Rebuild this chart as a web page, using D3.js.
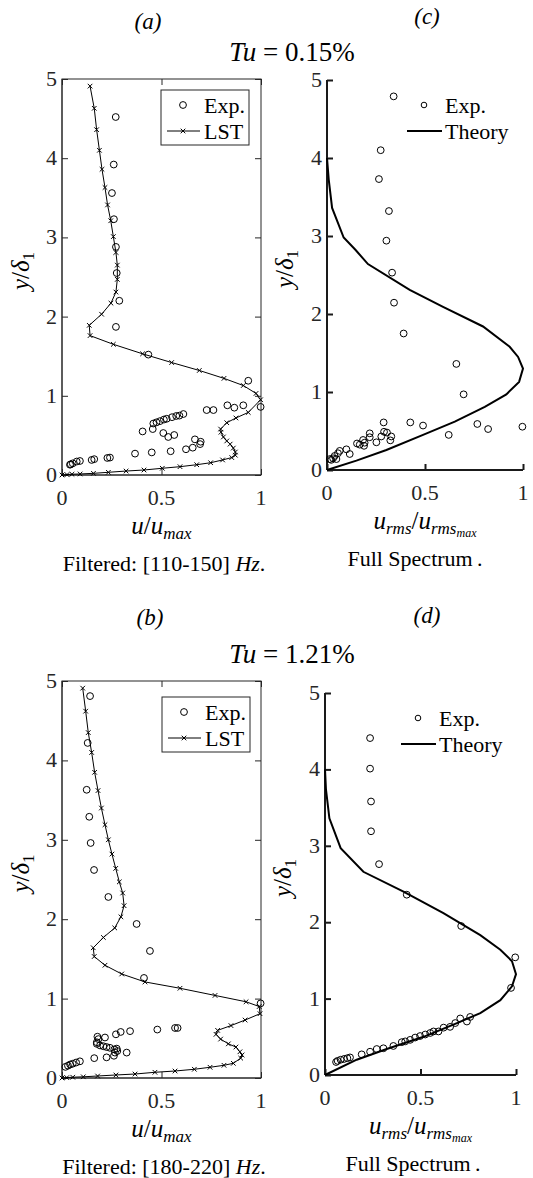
<!DOCTYPE html>
<html>
<head>
<meta charset="utf-8">
<script src="https://cdn.jsdelivr.net/npm/d3@7/dist/d3.min.js"></script>
<style>
  body { margin: 0; background: #fff; }
</style>
</head>
<body>
<div id="chart"></div>
<script>
// ---- data ----
const xTicks = [0, 0.5, 1];
const yTicks = [0, 1, 2, 3, 4, 5];

// (a) Tu = 0.15%, filtered 110-150 Hz
const expA = [
  [0.270, 4.52], [0.260, 3.92], [0.251, 3.56], [0.261, 3.23], [0.271, 2.88],
  [0.275, 2.55], [0.288, 2.20], [0.271, 1.87], [0.434, 1.52], [0.936, 1.19],
  [0.831, 0.88], [0.866, 0.85], [0.911, 0.88], [0.998, 0.86], [0.727, 0.82],
  [0.761, 0.82], [0.610, 0.77], [0.590, 0.75], [0.574, 0.745], [0.553, 0.73],
  [0.526, 0.71], [0.512, 0.70], [0.492, 0.68], [0.475, 0.665], [0.459, 0.65],
  [0.405, 0.55], [0.456, 0.58], [0.509, 0.53], [0.534, 0.48], [0.564, 0.505],
  [0.668, 0.45], [0.697, 0.42], [0.694, 0.39], [0.657, 0.345], [0.623, 0.325],
  [0.546, 0.30], [0.451, 0.285], [0.367, 0.27], [0.241, 0.22], [0.228, 0.215],
  [0.162, 0.20], [0.149, 0.19], [0.090, 0.177], [0.074, 0.17], [0.054, 0.147],
  [0.044, 0.135], [0.040, 0.13]
];
const lstA = [
  [0.141, 4.91], [0.162, 4.63], [0.174, 4.36], [0.188, 4.10], [0.201, 3.86],
  [0.216, 3.63], [0.229, 3.41], [0.245, 3.21], [0.258, 3.01], [0.271, 2.81],
  [0.278, 2.65], [0.278, 2.47], [0.271, 2.31], [0.246, 2.17], [0.199, 2.03],
  [0.137, 1.89], [0.141, 1.76], [0.258, 1.65], [0.405, 1.53], [0.551, 1.42],
  [0.690, 1.32], [0.814, 1.22], [0.911, 1.13], [0.975, 1.03], [0.998, 0.95],
  [0.936, 0.79], [0.874, 0.72], [0.828, 0.66], [0.797, 0.58], [0.799, 0.54],
  [0.811, 0.48], [0.828, 0.43], [0.845, 0.39], [0.861, 0.34], [0.871, 0.29],
  [0.871, 0.25], [0.853, 0.22], [0.807, 0.19], [0.747, 0.155], [0.677, 0.13],
  [0.593, 0.105], [0.504, 0.085], [0.412, 0.063], [0.322, 0.05], [0.233, 0.034],
  [0.158, 0.021], [0.091, 0.013], [0.050, 0.01], [0.025, 0.005], [0, 0]
];

// (c) Tu = 0.15%, full spectrum
const expC = [
  [0.340, 4.79], [0.274, 4.10], [0.265, 3.73], [0.316, 3.32], [0.303, 2.94],
  [0.332, 2.53], [0.342, 2.145], [0.391, 1.75], [0.660, 1.36], [0.697, 0.97],
  [0.997, 0.555], [0.822, 0.525], [0.767, 0.59], [0.621, 0.45], [0.490, 0.57],
  [0.425, 0.61], [0.289, 0.61], [0.291, 0.49], [0.306, 0.48], [0.328, 0.43],
  [0.323, 0.38], [0.277, 0.43], [0.252, 0.355], [0.218, 0.47], [0.218, 0.42],
  [0.192, 0.35], [0.184, 0.385], [0.167, 0.325], [0.153, 0.34], [0.189, 0.31],
  [0.116, 0.205], [0.099, 0.265], [0.065, 0.245], [0.056, 0.215], [0.039, 0.18],
  [0.031, 0.15], [0.022, 0.13], [0.014, 0.14], [0.048, 0.14]
];
const theoryC = [
  [0, 4.0], [0.009, 3.72], [0.026, 3.36], [0.085, 2.98], [0.146, 2.82],
  [0.209, 2.64], [0.422, 2.31], [0.592, 2.09], [0.796, 1.84], [0.932, 1.58],
  [0.975, 1.45], [1.0, 1.30], [0.980, 1.13], [0.915, 0.97], [0.805, 0.81],
  [0.652, 0.62], [0.490, 0.45], [0.303, 0.256], [0.150, 0.12], [0, 0]
];

// (b) Tu = 1.21%, filtered 180-220 Hz
const expB = [
  [0.141, 4.81], [0.129, 4.22], [0.124, 3.63], [0.137, 3.29], [0.144, 2.96],
  [0.161, 2.62], [0.233, 2.28], [0.375, 1.94], [0.442, 1.60], [0.412, 1.26],
  [0.998, 0.94], [0.568, 0.63], [0.581, 0.63], [0.479, 0.61], [0.342, 0.59],
  [0.295, 0.58], [0.271, 0.55], [0.216, 0.51], [0.178, 0.52], [0.183, 0.49],
  [0.175, 0.45], [0.175, 0.43], [0.191, 0.41], [0.208, 0.40], [0.224, 0.39],
  [0.241, 0.38], [0.263, 0.36], [0.275, 0.37], [0.278, 0.34], [0.266, 0.32],
  [0.261, 0.28], [0.325, 0.32], [0.224, 0.26], [0.162, 0.25], [0.090, 0.21],
  [0.071, 0.195], [0.054, 0.18], [0.041, 0.17], [0.030, 0.155], [0.017, 0.14]
];
const lstB = [
  [0.104, 4.91], [0.119, 4.62], [0.132, 4.35], [0.149, 4.10], [0.164, 3.85],
  [0.181, 3.62], [0.198, 3.40], [0.216, 3.19], [0.233, 3.00], [0.251, 2.82],
  [0.270, 2.64], [0.288, 2.47], [0.305, 2.33], [0.312, 2.17], [0.296, 2.03],
  [0.265, 1.89], [0.208, 1.77], [0.157, 1.64], [0.162, 1.53], [0.216, 1.42],
  [0.300, 1.31], [0.417, 1.21], [0.593, 1.13], [0.769, 1.04], [0.925, 0.96],
  [0.991, 0.90], [0.995, 0.81], [0.920, 0.73], [0.849, 0.66], [0.782, 0.60],
  [0.774, 0.55], [0.797, 0.49], [0.836, 0.43], [0.874, 0.39], [0.894, 0.33],
  [0.905, 0.29], [0.898, 0.25], [0.861, 0.185], [0.814, 0.16], [0.744, 0.135],
  [0.665, 0.11], [0.568, 0.088], [0.467, 0.072], [0.367, 0.05], [0.271, 0.038],
  [0.179, 0.025], [0.107, 0.015], [0.054, 0.01], [0.024, 0.005], [0, 0]
];

// (d) Tu = 1.21%, full spectrum
const expD = [
  [0.236, 4.41], [0.236, 4.01], [0.241, 3.58], [0.241, 3.19], [0.283, 2.76],
  [0.428, 2.36], [0.713, 1.95], [0.996, 1.54], [0.974, 1.14],
  [0.760, 0.76], [0.743, 0.70], [0.708, 0.74], [0.682, 0.68], [0.655, 0.63],
  [0.621, 0.62], [0.594, 0.57], [0.568, 0.57], [0.551, 0.55], [0.525, 0.53],
  [0.498, 0.51], [0.472, 0.49], [0.446, 0.46], [0.420, 0.44], [0.402, 0.43],
  [0.358, 0.38], [0.306, 0.35], [0.271, 0.34], [0.236, 0.305], [0.192, 0.27],
  [0.131, 0.23], [0.117, 0.22], [0.100, 0.21], [0.082, 0.20], [0.066, 0.185],
  [0.058, 0.17]
];
const theoryD = [
  [0, 4.0], [0.005, 3.74], [0.023, 3.36], [0.082, 2.97], [0.201, 2.66],
  [0.411, 2.40], [0.620, 2.12], [0.813, 1.83], [0.918, 1.64], [0.979, 1.49],
  [1.0, 1.32], [0.979, 1.16], [0.918, 0.98], [0.813, 0.81], [0.691, 0.68],
  [0.516, 0.50], [0.323, 0.34], [0.166, 0.20], [0, 0]
];

const svg = d3.select("#chart").append("svg")
  .attr("width", 533)
  .attr("height", 1178)
  .attr("font-family", "'Liberation Serif', 'DejaVu Serif', serif");

const axisColor = "#262626";
const FS = 22;

// math-ish text helpers
function mathText(g, x, y, parts, rotate) {
  const t = g.append("text")
    .attr("x", x).attr("y", y)
    .attr("text-anchor", "middle")
    .attr("font-size", 25)
    .attr("fill", "#000");
  if (rotate) t.attr("transform", `rotate(-90,${x},${y})`);
  parts.forEach(p => {
    const s = t.append("tspan").text(p.t);
    if (p.i) s.attr("font-style", "italic");
    if (p.fs) s.attr("font-size", p.fs);
    if (p.dy) s.attr("dy", p.dy);
  });
  return t;
}

const yLabel = [
  {t: "y", i: 1}, {t: "/"}, {t: "δ", i: 1}, {t: "1", fs: 17, dy: 5}
];
const uLabel = [
  {t: "u", i: 1}, {t: "/"}, {t: "u", i: 1}, {t: "max", i: 1, fs: 17, dy: 5}
];
const rmsLabel = [
  {t: "u", i: 1}, {t: "rms", i: 1, fs: 17, dy: 5}, {t: "/", dy: -5},
  {t: "u", i: 1}, {t: "rms", i: 1, fs: 17, dy: 5}, {t: "max", i: 1, fs: 12, dy: 3}
];

function drawPanel(p) {
  const x = d3.scaleLinear().domain([0, 1]).range([p.left, p.right]);
  const y = d3.scaleLinear().domain([0, 5]).range([p.bottom, p.top]);
  const g = svg.append("g");

  // axes
  if (p.boxed) {
    g.append("rect")
      .attr("x", p.left).attr("y", p.top)
      .attr("width", p.right - p.left).attr("height", p.bottom - p.top)
      .attr("fill", "none").attr("stroke", axisColor).attr("stroke-width", 1);
    g.append("g").attr("transform", `translate(0,${p.top})`)
      .call(d3.axisBottom(x).tickValues(xTicks).tickSize(6).tickFormat(""))
      .call(a => a.select(".domain").remove())
      .selectAll("line").attr("stroke", axisColor);
    g.append("g").attr("transform", `translate(${p.right},0)`)
      .call(d3.axisLeft(y).tickValues(yTicks).tickSize(6).tickFormat(""))
      .call(a => a.select(".domain").remove())
      .selectAll("line").attr("stroke", axisColor);
  }
  const sw = p.boxed ? 1 : 2;
  const ac = p.boxed ? axisColor : "#1a1a1a";
  const xa = g.append("g").attr("transform", `translate(0,${p.bottom})`)
    .call(d3.axisTop(x).tickValues(xTicks).tickSize(6).tickFormat(""));
  xa.select(".domain").attr("stroke", ac).attr("stroke-width", sw)
    .attr("d", `M${p.left},0H${p.right}`);
  xa.selectAll("line").attr("stroke", ac).attr("stroke-width", sw);
  const ya = g.append("g").attr("transform", `translate(${p.left},0)`)
    .call(d3.axisRight(y).tickValues(yTicks).tickSize(6).tickFormat(""));
  ya.select(".domain").attr("stroke", ac).attr("stroke-width", sw)
    .attr("d", `M0,${p.bottom}V${p.top}`);
  ya.selectAll("line").attr("stroke", ac).attr("stroke-width", sw);

  // tick labels
  g.selectAll(".xt").data(xTicks).enter().append("text")
    .attr("x", d => x(d)).attr("y", p.bottom + 30)
    .attr("text-anchor", "middle").attr("font-size", FS)
    .attr("fill", axisColor).text(d => d);
  g.selectAll(".yt").data(yTicks).enter().append("text")
    .attr("x", p.left - 5).attr("y", d => y(d) + 7)
    .attr("text-anchor", "end").attr("font-size", FS)
    .attr("fill", axisColor).text(d => d);

  // series
  if (p.lst) {
    g.append("path").datum(p.lst)
      .attr("fill", "none").attr("stroke", "#000").attr("stroke-width", 1)
      .attr("d", d3.line().x(d => x(d[0])).y(d => y(d[1])));
    g.selectAll(".xm").data(p.lst).enter().append("path")
      .attr("transform", d => `translate(${x(d[0])},${y(d[1])})`)
      .attr("d", "M-2.3,-2.3L2.3,2.3M-2.3,2.3L2.3,-2.3")
      .attr("stroke", "#000").attr("stroke-width", 1);
  }
  if (p.theory) {
    g.append("path").datum(p.theory)
      .attr("fill", "none").attr("stroke", "#000").attr("stroke-width", 2)
      .attr("d", d3.line().x(d => x(d[0])).y(d => y(d[1])));
  }
  g.selectAll(".em").data(p.exp).enter().append("circle")
    .attr("cx", d => x(d[0])).attr("cy", d => y(d[1]))
    .attr("r", 3.4).attr("fill", "none")
    .attr("stroke", "#000").attr("stroke-width", 1);

  // axis labels and caption
  const cx = (p.left + p.right) / 2;
  mathText(g, p.ylabX, (p.top + p.bottom) / 2 - 6, yLabel, true);
  mathText(g, cx, p.bottom + 59, p.xlab);
  const cap = g.append("text").attr("x", p.capX).attr("y", p.bottom + 96)
    .attr("text-anchor", "middle").attr("font-size", FS).attr("fill", "#000");
  p.caption.forEach(c => {
    const s = cap.append("tspan").text(c.t);
    if (c.i) s.attr("font-style", "italic");
  });

  // legend
  const L = p.legend;
  if (p.boxed) {
    g.append("rect").attr("x", L.x).attr("y", L.y).attr("width", 88).attr("height", 55)
      .attr("fill", "#fff").attr("stroke", axisColor).attr("stroke-width", 1);
    g.append("circle").attr("cx", L.x + 22).attr("cy", L.y + 15).attr("r", 3.4)
      .attr("fill", "none").attr("stroke", "#000");
    g.append("line").attr("x1", L.x + 6).attr("x2", L.x + 39)
      .attr("y1", L.y + 41).attr("y2", L.y + 41).attr("stroke", "#000");
    g.append("path").attr("transform", `translate(${L.x + 22},${L.y + 41})`)
      .attr("d", "M-2.3,-2.3L2.3,2.3M-2.3,2.3L2.3,-2.3").attr("stroke", "#000");
    g.append("text").attr("x", L.x + 43).attr("y", L.y + 23).attr("font-size", FS).text("Exp.");
    g.append("text").attr("x", L.x + 43).attr("y", L.y + 49).attr("font-size", FS).text("LST");
  } else {
    g.append("circle").attr("cx", L.x + 17).attr("cy", L.y).attr("r", 2.8)
      .attr("fill", "none").attr("stroke", "#000");
    g.append("line").attr("x1", L.x).attr("x2", L.x + 35)
      .attr("y1", L.y + 26).attr("y2", L.y + 26).attr("stroke", "#000").attr("stroke-width", 2);
    g.append("text").attr("x", L.x + 38).attr("y", L.y + 8).attr("font-size", FS).text("Exp.");
    g.append("text").attr("x", L.x + 38).attr("y", L.y + 34).attr("font-size", FS).text("Theory");
  }
}

// titles
function title(x, y, lab) {
  svg.append("text").attr("x", x).attr("y", y).attr("text-anchor", "middle")
    .attr("font-size", 23).attr("font-style", "italic").text(lab);
}
function tuTitle(y, val) {
  const t = svg.append("text").attr("x", 292).attr("y", y).attr("text-anchor", "middle")
    .attr("font-size", 27);
  t.append("tspan").attr("font-style", "italic").text("Tu");
  t.append("tspan").text(" = " + val);
}
title(148, 29, "(a)");
title(427, 24, "(c)");
tuTitle(61, "0.15%");
title(150, 625, "(b)");
title(427, 623, "(d)");
tuTitle(663, "1.21%");

drawPanel({left: 62, right: 261, top: 79, bottom: 475, boxed: true, exp: expA, lst: lstA,
  ylabX: 29, xlab: uLabel, capX: 164,
  caption: [{t: "Filtered: [110-150] "}, {t: "Hz", i: 1}, {t: "."}],
  legend: {x: 161, y: 90}});
drawPanel({left: 327, right: 523, top: 80, bottom: 470, boxed: false, exp: expC, theory: theoryC,
  ylabX: 293, xlab: rmsLabel, capX: 415,
  caption: [{t: "Full Spectrum\u2009."}],
  legend: {x: 407, y: 105}});
drawPanel({left: 62, right: 261, top: 681, bottom: 1078, boxed: true, exp: expB, lst: lstB,
  ylabX: 29, xlab: uLabel, capX: 164,
  caption: [{t: "Filtered: [180-220] "}, {t: "Hz", i: 1}, {t: "."}],
  legend: {x: 162, y: 697}});
drawPanel({left: 325, right: 516, top: 693, bottom: 1075, boxed: false, exp: expD, theory: theoryD,
  ylabX: 291, xlab: rmsLabel, capX: 413,
  caption: [{t: "Full Spectrum\u2009."}],
  legend: {x: 401, y: 718}});
</script>
</body>
</html>
